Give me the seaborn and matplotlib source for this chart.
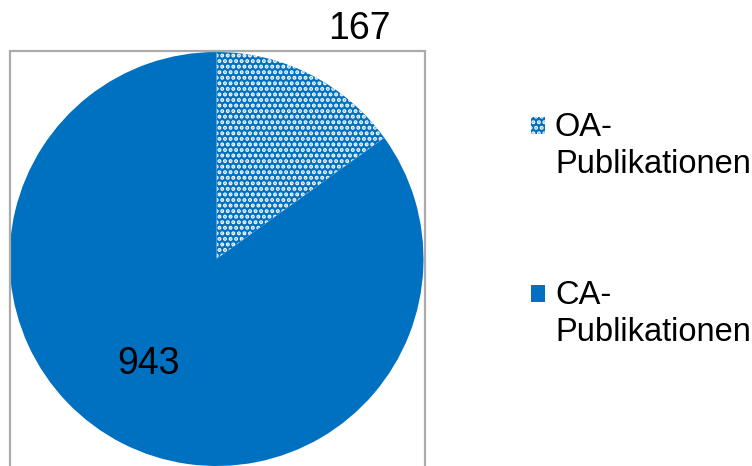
import numpy as np
import matplotlib
matplotlib.use("Agg")
import matplotlib.pyplot as plt
from matplotlib.patches import Rectangle
from matplotlib.legend_handler import HandlerPatch
import seaborn as sns

categories = ["OA-\nPublikationen", "CA-\nPublikationen"]
values = [167, 943]
label_text = ["167", "943"]

sns.set_theme(style="white")
plt.rcParams['font.family'] = ['Liberation Sans', 'DejaVu Sans']
plt.rcParams['hatch.linewidth'] = 2.0

W, H = 752, 466
fig = plt.figure(figsize=(W / 100, H / 100), dpi=100)

cx, cy, r = 216.5, 259, 207
ax = fig.add_axes([(cx - r) / W, (H - cy - r) / H, 2 * r / W, 2 * r / H])

blue = "#0070C0"
wedges, _ = ax.pie(values, startangle=90, counterclock=False, colors=[blue, blue],
                   wedgeprops=dict(linewidth=0, edgecolor="white"), radius=1)
wedges[0].set_hatch("...")
wedges[0].set_edgecolor("white")
wedges[1].set_edgecolor(blue)
ax.set_xlim(-1, 1)
ax.set_ylim(-1, 1)
ax.set_aspect("equal")
ax.axis("off")

# label placement: radial distance and angular offset from the slice's mid-angle
dists = [1.326, 0.59]
ang_off = [-4.4, -7.0]
for w, t, d, o in zip(wedges, label_text, dists, ang_off):
    ang = np.deg2rad((w.theta1 + w.theta2) / 2 + o)
    ax.text(d * np.cos(ang), d * np.sin(ang), t, ha="center", va="center_baseline",
            fontsize=27, color="black", clip_on=False)

# chart area frame
fig.patches.append(Rectangle((9.5 / W, -0.1), (425 - 9.5) / W, (H - 51) / H + 0.1,
                             transform=fig.transFigure, fill=False,
                             edgecolor="#ABABAB", linewidth=1.6))

# legend marker aligned with the first line of the two-line label
def top_patch(legend, orig_handle, xdescent, ydescent, width, height, fontsize):
    return Rectangle((-xdescent, -ydescent + 15.0), width, height)

leg = fig.legend(wedges, categories, loc="upper left",
                 bbox_to_anchor=(518 / W, 1 - 99 / H), frameon=False,
                 fontsize=23.5, handlelength=0.43, handleheight=0.43,
                 handletextpad=0.3, labelspacing=3.05, borderaxespad=0,
                 labelcolor="black",
                 handler_map={w: HandlerPatch(patch_func=top_patch) for w in wedges})
for t in leg.get_texts():
    t.set_linespacing(1.25)

fig.savefig("out.png", dpi=100)
